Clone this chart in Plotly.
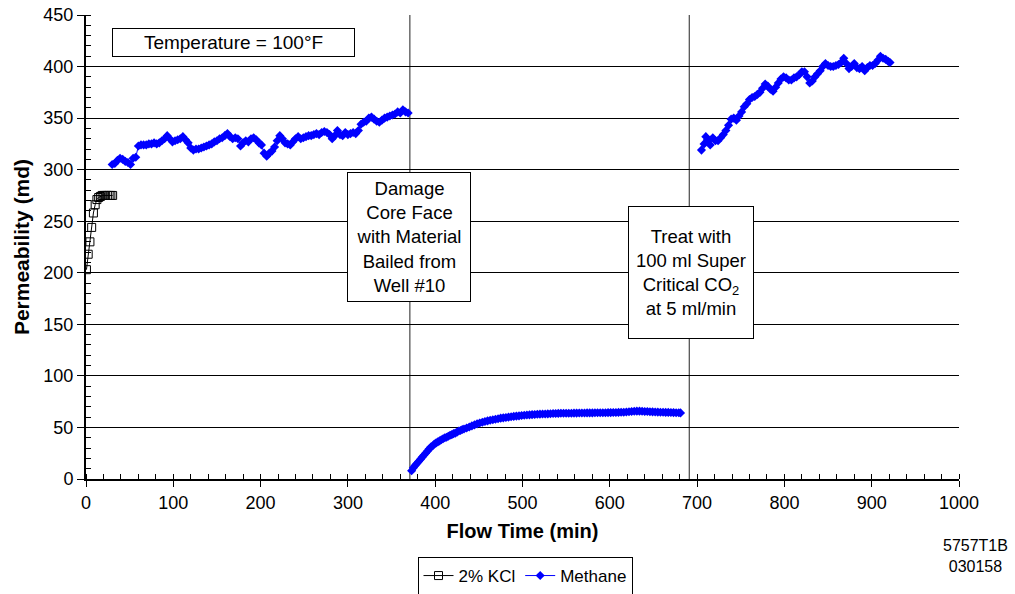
import plotly.graph_objects as go

# ---- data ----
kcl_time = [0.5, 2.5, 4.5, 6.5, 8.5, 10.5, 12.5, 14.5, 16.5, 18.5, 20.5, 22.5, 24.5, 26.5, 28.5, 30.5]
kcl_perm = [203, 218, 230, 244, 258, 266, 271, 273, 274, 275, 275, 275, 275, 275, 275, 275]

meth1_time = [30, 33, 36, 39, 42, 45, 48, 51, 54, 57, 60, 63, 66, 69, 72, 75, 78, 81, 84, 87,
              90, 93, 96, 99, 102, 105, 108, 111, 114, 117, 120, 123, 126, 129, 132, 135, 138, 141, 144, 147,
              150, 153, 156, 159, 162, 165, 168, 171, 174, 177, 180, 183, 186, 189, 192, 195, 198, 201, 204, 207,
              210, 213, 216, 219, 222, 225, 228, 231, 234, 237, 240, 243, 246, 249, 252, 255, 258, 261, 264, 267,
              270, 273, 276, 279, 282, 285, 288, 291, 294, 297, 300, 303, 306, 309, 312, 315, 318, 321, 324, 327,
              330, 333, 336, 339, 342, 345, 348, 351, 354, 357, 360, 363, 366, 369]
meth1_perm = [305, 306, 309, 311, 310, 308, 307, 305, 311, 312, 323, 324, 324, 324, 325, 325, 326, 325, 326, 328,
              330, 333, 330, 327, 328, 329, 330, 332, 329, 326, 321, 319, 320, 320, 321, 322, 323, 324, 325, 327,
              328, 330, 331, 333, 335, 332, 330, 331, 330, 323, 326, 328, 327, 330, 331, 329, 326, 324, 316, 313,
              316, 318, 322, 328, 333, 330, 326, 325, 324, 327, 330, 332, 330, 331, 332, 333, 333, 334, 335, 334,
              336, 337, 336, 334, 330, 333, 338, 334, 333, 336, 334, 335, 336, 335, 338, 344, 346, 347, 350, 351,
              349, 347, 346, 348, 350, 351, 352, 353, 354, 356, 355, 358, 356, 355]

meth2_time = [373, 375, 377, 379, 381, 383, 385, 387, 389, 391, 393, 395, 397, 399, 401, 403, 405, 407, 409, 411,
              413, 415, 417, 419, 421, 423, 425, 427, 429, 431, 433, 436, 439, 442, 445, 448, 451, 454, 457, 460,
              463, 466, 469, 472, 475, 478, 481, 484, 487, 490, 493, 496, 499, 502, 505, 508, 511, 514, 517, 520,
              523, 526, 529, 532, 535, 538, 541, 544, 547, 550, 553, 556, 559, 562, 565, 568, 571, 574, 577, 580,
              583, 586, 589, 592, 595, 598, 601, 604, 607, 610, 613, 616, 619, 622, 625, 628, 631, 634, 637, 640,
              643, 646, 649, 652, 655, 658, 661, 664, 667, 670, 673, 676, 679, 681]
meth2_perm = [8, 11, 13, 15, 17, 19, 21, 23, 25, 27, 29, 31, 32, 34, 35, 36, 37, 38, 39, 40,
              40.5, 41.5, 42.5, 43, 44, 44.5, 45.5, 46.5, 47, 48, 48.5, 49.5, 50.5, 51.5, 52.5, 53.5, 54.3, 55, 55.8, 56.4,
              57, 57.5, 58, 58.5, 59, 59.3, 59.7, 60, 60.4, 60.7, 61, 61.2, 61.6, 61.8, 62, 62.2, 62.4, 62.6, 62.8, 62.9,
              63, 63.1, 63.2, 63.3, 63.5, 63.5, 63.6, 63.7, 63.7, 63.8, 63.8, 63.8, 63.9, 63.9, 64, 64, 64, 64.1, 64.1, 64.1,
              64.2, 64.2, 64.3, 64.3, 64.3, 64.4, 64.4, 64.5, 64.5, 64.6, 64.7, 64.8, 65, 65.2, 65.5, 65.7, 65.8, 65.8, 65.7, 65.5,
              65.4, 65.2, 65.1, 65, 64.9, 64.8, 64.7, 64.6, 64.6, 64.5, 64.4, 64.3, 64.2, 64.1]

meth3_time = [705, 708, 710, 712, 715, 718, 721, 724, 727, 730, 733, 736, 739, 742, 745, 748, 751, 754, 757, 760,
              763, 766, 769, 772, 775, 778, 781, 784, 787, 790, 793, 796, 799, 802, 805, 808, 811, 814, 817, 820,
              823, 826, 829, 832, 835, 838, 841, 844, 847, 850, 853, 856, 859, 862, 865, 868, 871, 874, 877, 880,
              883, 886, 889, 892, 895, 898, 901, 904, 907, 910, 913, 916, 919, 921]
meth3_perm = [319, 325, 332, 329, 324, 331, 328, 328, 331, 334, 338, 343, 349, 350, 348, 352, 356, 361, 364, 368,
              370, 371, 373, 375, 379, 383, 381, 378, 376, 380, 384, 388, 390, 389, 387, 387, 389, 390, 392, 395,
              395, 390, 384, 386, 390, 393, 396, 400, 403, 401, 400, 400, 401, 402, 404, 408, 403, 398, 400, 403,
              399, 398, 400, 396, 399, 401, 401, 403, 406, 410, 408, 407, 405, 404]

event_times = [371, 691]
x_ticks = [0, 100, 200, 300, 400, 500, 600, 700, 800, 900, 1000]
y_ticks = [0, 50, 100, 150, 200, 250, 300, 350, 400, 450]

meth_time = meth1_time + [None] + meth2_time + [None] + meth3_time
meth_perm = meth1_perm + [None] + meth2_perm + [None] + meth3_perm

FONT = "Liberation Sans, Arial, sans-serif"

fig = go.Figure()
fig.add_trace(go.Scatter(
    x=kcl_time, y=kcl_perm, name="2% KCl", mode="lines+markers",
    line=dict(color="black", width=1),
    marker=dict(symbol="square-open", size=8, color="black", line=dict(width=1))))
fig.add_trace(go.Scatter(
    x=meth_time, y=meth_perm, name="Methane", mode="lines+markers",
    connectgaps=False,
    line=dict(color="#0000FF", width=1),
    marker=dict(symbol="diamond", size=7, color="#0000FF")))

for t in event_times:
    fig.add_shape(type="line", x0=t, x1=t, y0=0, y1=450, xref="x", yref="y",
                  line=dict(color="#222222", width=1), layer="below")

fig.add_annotation(x=169, y=423, xref="x", yref="y", text="Temperature = 100°F",
                   showarrow=False, font=dict(size=19, color="black", family=FONT),
                   bordercolor="black", borderwidth=1, bgcolor="white",
                   width=239, height=25, borderpad=1)
fig.add_annotation(x=370, y=235, xref="x", yref="y",
                   text="Damage<br>Core Face<br>with Material<br>Bailed from<br>Well #10",
                   showarrow=False, font=dict(size=18.5, color="black", family=FONT),
                   bordercolor="black", borderwidth=1, bgcolor="white",
                   width=120, height=126, borderpad=1)
fig.add_annotation(x=693, y=200, xref="x", yref="y",
                   text="Treat with<br>100 ml Super<br>Critical CO<sub>2</sub><br>at 5 ml/min",
                   showarrow=False, font=dict(size=18.5, color="black", family=FONT),
                   bordercolor="black", borderwidth=1, bgcolor="white",
                   width=122, height=129, borderpad=1)
fig.add_annotation(x=(976 - 86) / 873, y=(479.5 - 557) / 464.5, xref="paper", yref="paper",
                   text="5757T1B<br>030158", showarrow=False,
                   font=dict(size=16, color="black", family=FONT),
                   xanchor="center", yanchor="middle")

fig.update_layout(
    width=1015, height=594,
    margin=dict(l=86, r=56, t=15, b=114.5, autoexpand=False),
    paper_bgcolor="white", plot_bgcolor="white",
    font=dict(family=FONT, size=18, color="black"),
    showlegend=True,
    legend=dict(orientation="h", x=525 / 1015, xanchor="center", xref="container",
                y=(594 - 557) / 594, yanchor="top", yref="container",
                bordercolor="black", borderwidth=1, font=dict(size=17),
                itemwidth=30, tracegroupgap=0),
    xaxis=dict(range=[0, 1000], tickvals=x_ticks, showgrid=False, zeroline=False,
               showline=True, linecolor="black", linewidth=2, automargin=False,
               ticks="outside", ticklen=6, tickcolor="black", tickwidth=1,
               minor=dict(dtick=20, ticks="inside", ticklen=5, tickcolor="black", tickwidth=1),
               title=dict(text="<b>Flow Time (min)</b>", font=dict(size=20), standoff=12)),
    yaxis=dict(range=[0, 450], tickvals=y_ticks, showgrid=True, gridcolor="black", gridwidth=1,
               zeroline=False, showline=True, linecolor="black", linewidth=2, automargin=False,
               ticks="outside", ticklen=7, tickcolor="black", tickwidth=1,
               minor=dict(dtick=10, ticks="inside", ticklen=5, tickcolor="black", tickwidth=1, showgrid=False),
               title=dict(text="<b>Permeability (md)</b>", font=dict(size=21), standoff=8)),
)

fig.write_html("out.html")
